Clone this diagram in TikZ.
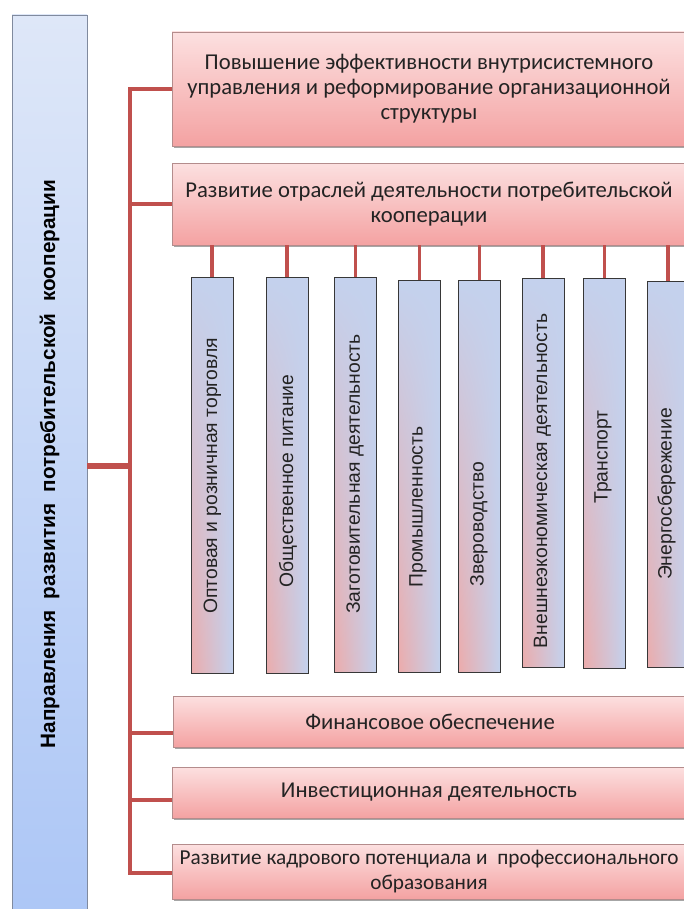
\documentclass[tikz,border=0pt]{standalone}
\usepackage{fontspec}
\setmainfont{Carlito}
\newfontfamily\arialfont{Liberation Sans}
\usetikzlibrary{positioning,shadows,fadings}
\definecolor{linkred}{RGB}{192,80,77}
\definecolor{pinktop}{RGB}{252,224,224}
\definecolor{pinkbot}{RGB}{244,162,162}
\definecolor{pinkedge}{RGB}{180,140,140}
\definecolor{bluetop}{RGB}{222,231,248}
\definecolor{bluebot}{RGB}{172,198,246}
\definecolor{blueedge}{RGB}{128,138,158}
\definecolor{barblue}{RGB}{196,210,238}
\definecolor{barpink}{RGB}{236,172,172}
\definecolor{baredge}{RGB}{55,55,55}
\definecolor{inktext}{RGB}{35,35,35}
\newcommand{\pxu}{0.02cm}

\begin{document}
\begin{tikzpicture}[
    x=0.02cm, y=-0.02cm,
    every node/.style={inner sep=0pt, outer sep=0pt},
    mainbox/.style={draw=blueedge, top color=bluetop, bottom color=bluebot, minimum width=75*\pxu, minimum height=910*\pxu},
    mainlabel/.style={rotate=90, font=\arialfont\bfseries\fontsize{11.8}{14}\selectfont, text=black},
    areabox/.style={draw=pinkedge, top color=pinktop, bottom color=pinkbot, minimum width=514*\pxu, align=center, text=inktext,
        font=\fontsize{12.9}{14.2}\selectfont, drop shadow={shadow xshift=1.2pt, shadow yshift=-1.2pt, fill=black, opacity=0.35}},
    bar/.style={draw=baredge, left color=barpink, right color=barblue, minimum width=42*\pxu,
        postaction={fill=barblue, path fading=south}, postaction={draw=baredge}},
    bartext/.style={rotate=90, font=\arialfont\fontsize{11}{13}\selectfont, text=inktext},
    link/.style={draw=linkred, line width=2.2pt},
    feed/.style={draw=linkred, line width=3.2pt}
  ]
    \path[use as bounding box, fill=white] (0,0) rectangle (683,909);

    \node[mainbox] (main) at (49.5,470) {};
    \node[mainlabel] (mainlbl) at (49.5,464) {Направления\ \ развития\ \ потребительской\ \ кооперации};

    \node[areabox, minimum height=114*\pxu] (upgrade) at (429,89) {Повышение эффективности внутрисистемного\\управления и реформирование организационной\\структуры};
    \node[areabox, minimum height=82*\pxu] (branches) at (429,204) {Развитие отраслей деятельности потребительской\\кооперации};
    \node[areabox, minimum height=51*\pxu] (finance) at (430,721.5) {Финансовое обеспечение};
    \node[areabox, minimum height=51*\pxu] (invest) at (429,792.5) {Инвестиционная деятельность};
    \node[areabox, minimum height=55*\pxu, font=\fontsize{12.1}{14.2}\selectfont] (staff) at (429,871.5) {Развитие кадрового потенциала и\ \ профессионального\\образования};

    \node[bar, minimum height=396*\pxu] (trade) at (212,475) {};
    \node[bar, minimum height=396*\pxu] (catering) at (287,475) {};
    \node[bar, minimum height=395*\pxu] (procure) at (355.5,474.5) {};
    \node[bar, minimum height=392*\pxu] (industry) at (419.5,476) {};
    \node[bar, minimum height=392*\pxu] (fur) at (479.5,476) {};
    \node[bar, minimum height=389*\pxu] (foreign) at (543,472.5) {};
    \node[bar, minimum height=390*\pxu] (transport) at (604.5,473) {};
    \node[bar, minimum height=386*\pxu] (energy) at (668,474) {};

    \node[bartext] (tradelbl) at (212.5,476) {Оптовая и розничная торговля};
    \node[bartext] (cateringlbl) at (288,481) {Общественное питание};
    \node[bartext] (procurelbl) at (355,474) {Заготовительная деятельность};
    \node[bartext] (industrylbl) at (418,507) {Промышленность};
    \node[bartext] (furlbl) at (479,524) {Звероводство};
    \node[bartext] (foreignlbl) at (542.5,481) {Внешнеэкономическая деятельность};
    \node[bartext] (transportlbl) at (603,457) {Транспорт};
    \node[bartext] (energylbl) at (666.5,494) {Энергосбережение};

    \coordinate (hub) at (130,466);
    \draw[feed] (main.east |- hub) -- (hub);
    \draw[link] (upgrade.west) -- (upgrade.west -| hub) -- ([yshift=-1.5*\pxu]staff.west -| hub) -- ([yshift=-1.5*\pxu]staff.west);
    \draw[link] (branches.west) -- (branches.west -| hub);
    \draw[link] ([yshift=-11.5*\pxu]finance.west) -- ([yshift=-11.5*\pxu]finance.west -| hub);
    \draw[link] ([yshift=-7.5*\pxu]invest.west) -- ([yshift=-7.5*\pxu]invest.west -| hub);

    \draw[link] (trade.north) -- (trade.north |- branches.south);
    \draw[link] (catering.north) -- (catering.north |- branches.south);
    \draw[link] (procure.north) -- (procure.north |- branches.south);
    \draw[link] (industry.north) -- (industry.north |- branches.south);
    \draw[link] (fur.north) -- (fur.north |- branches.south);
    \draw[link] (foreign.north) -- (foreign.north |- branches.south);
    \draw[link] (transport.north) -- (transport.north |- branches.south);
    \draw[link] (energy.north) -- (energy.north |- branches.south);
  \end{tikzpicture}
\end{document}
